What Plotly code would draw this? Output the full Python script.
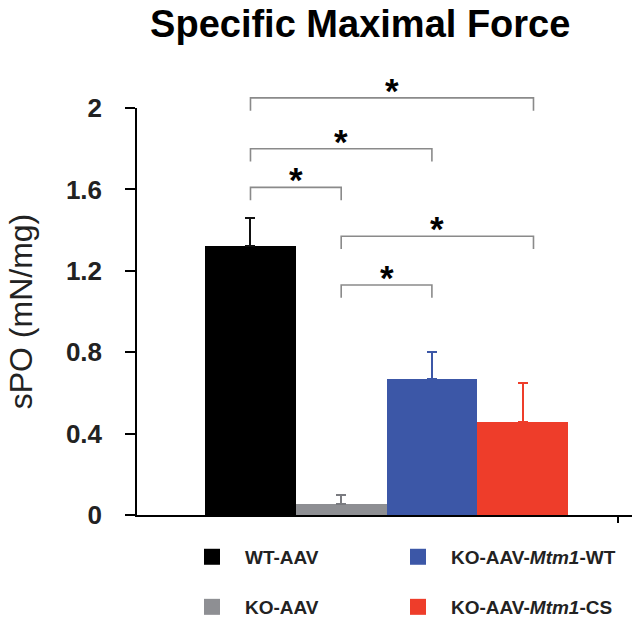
import plotly.graph_objects as go

# ---- data ----
groups = ["WT-AAV", "KO-AAV", "KO-AAV-<i>Mtm1</i>-WT", "KO-AAV-<i>Mtm1</i>-CS"]
spo_mean = [1.32, 0.055, 0.67, 0.455]
spo_sem = [0.14, 0.045, 0.13, 0.195]
bar_colors = ["#000000", "#8e8f93", "#3c57a7", "#ee3d2a"]
err_colors = ["#111111", "#7a7b80", "#3c57a7", "#ee3d2a"]
legend_ids = ["legend", "legend2", "legend3", "legend4"]

# significance brackets (x in bar index units, y in mN/mg)
br_x0 = [0, 0, 0, 1, 1]
br_x1 = [3.12, 2, 1, 3.12, 2]
br_y = [2.05, 1.80, 1.61, 1.37, 1.13]
br_drop = 0.063
br_label = ["*", "*", "*", "*", "*"]

y_ticks = [0, 0.4, 0.8, 1.2, 1.6, 2.0]
y_ticktext = ["0", "0.4", "0.8", "1.2", "1.6", "2"]
y_max = 2.0

fig = go.Figure()
for i, g in enumerate(groups):
    fig.add_trace(go.Bar(
        x=[i], y=[spo_mean[i]], width=1,
        marker=dict(color=bar_colors[i], line=dict(width=0)),
        error_y=dict(type="data", symmetric=False, array=[spo_sem[i]], arrayminus=[0],
                     color=err_colors[i], thickness=2, width=5),
        showlegend=False,
    ))
    fig.add_trace(go.Scatter(
        x=[None], y=[None], mode="markers", name=g,
        marker=dict(symbol="square", size=16, color=bar_colors[i]),
        legend=legend_ids[i],
    ))

shapes = []
annotations = []
for x0, x1, yv, lab in zip(br_x0, br_x1, br_y, br_label):
    yt = yv / y_max
    yb = (yv - br_drop) / y_max
    shapes.append(dict(type="path", xref="x", yref="paper",
                       path=f"M{x0},{yb} L{x0},{yt} L{x1},{yt} L{x1},{yb}",
                       line=dict(color="#8a8a8a", width=1.6)))
    annotations.append(dict(x=(x0 + x1) / 2, y=yt, xref="x", yref="paper",
                            text=f"<b>{lab}</b>", showarrow=False,
                            yanchor="bottom", yshift=-14,
                            font=dict(family="Liberation Sans", size=35, color="black")))

legend_common = dict(orientation="h", xanchor="left", yanchor="middle",
                     font=dict(family="Liberation Sans", size=19, color="#222", weight="bold"),
                     itemwidth=56, bgcolor="rgba(0,0,0,0)", itemclick=False)

col_x = [0.0848, 0.501]
row_y = [-0.103, -0.226]

fig.update_layout(
    width=632, height=619,
    margin=dict(l=137, r=0, t=108, b=104, autoexpand=False),
    plot_bgcolor="white", paper_bgcolor="white",
    bargap=0,
    title=dict(text="<b>Specific Maximal Force</b>", x=0.57, xanchor="center",
               y=0.961, yanchor="middle",
               font=dict(family="Liberation Sans", size=38, color="black")),
    xaxis=dict(range=[-1.251, 4.206], showgrid=False, zeroline=False,
               showline=True, linecolor="black", linewidth=1.5,
               tickvals=[4.05], ticktext=[""], ticks="outside", ticklen=6,
               tickwidth=1.5, tickcolor="black"),
    yaxis=dict(range=[0, y_max], tickvals=y_ticks, ticktext=y_ticktext,
               showgrid=False, zeroline=False, showline=True, linecolor="black",
               linewidth=1.5, ticks="outside", ticklen=10, tickwidth=1.5,
               tickcolor="black", ticklabelstandoff=18,
               tickfont=dict(family="Liberation Sans", size=26, color="#222", weight="bold"),
               title=dict(text="sPO (mN/mg)", standoff=24,
                          font=dict(family="Liberation Sans", size=32, color="#222"))),
    legend=dict(x=col_x[0], y=row_y[0], **legend_common),
    legend2=dict(x=col_x[0], y=row_y[1], **legend_common),
    legend3=dict(x=col_x[1], y=row_y[0], **legend_common),
    legend4=dict(x=col_x[1], y=row_y[1], **legend_common),
    shapes=shapes,
    annotations=annotations,
)

fig.write_html("out.html", config={"displayModeBar": False},
               post_script="document.body.style.margin='0';")
